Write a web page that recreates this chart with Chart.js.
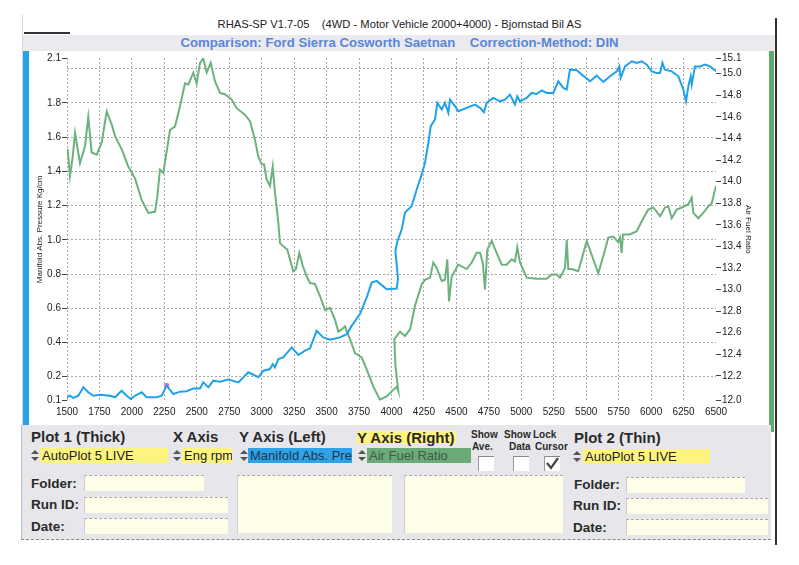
<!DOCTYPE html>
<html>
<head>
<meta charset="utf-8">
<title>RHAS-SP comparison</title>
<script src="https://cdn.jsdelivr.net/npm/chart.js@4.4.0/dist/chart.umd.min.js"></script>
<style>
  body { margin: 0; width: 799px; height: 565px; background: #fff; position: relative; overflow: hidden;
         font-family: "Liberation Sans", Arial, sans-serif; color: #222; }
  .abs { position: absolute; }
  #chartBox { position: absolute; left: 0; top: 0; width: 799px; height: 425px; }
  .head { left: 0; width: 799px; text-align: center; white-space: pre; line-height: 16px; }
  .lbl { position: absolute; font-weight: bold; font-size: 15px; line-height: 16px; white-space: pre; color: #2a2a2a; }
  .small { position: absolute; font-weight: bold; font-size: 10px; line-height: 12px; color: #2a2a2a; }
  .fld { position: absolute; height: 15px; line-height: 15px; font-size: 13px; padding-left: 2px;
         overflow: hidden; white-space: nowrap; box-sizing: border-box; }
  .cream { position: absolute; background: #fefde8; box-sizing: border-box;
           border-top: 1px dashed #a9a9a9; border-left: 1px solid #cfcfcf; }
  .spin { position: absolute; width: 8px; height: 11px; }
  .spin:before, .spin:after { content: ""; position: absolute; left: 0;
           border-left: 4px solid transparent; border-right: 4px solid transparent; }
  .spin:before { top: 0; border-bottom: 4px solid #555; }
  .spin:after { top: 7px; border-top: 4px solid #555; }
  .chk { position: absolute; width: 16px; height: 15px; background: #fff; box-sizing: border-box;
         border-top: 1px solid #888; border-left: 1px solid #999; }
</style>
</head>
<body>

<!-- header -->
<div class="abs" style="left:22px;top:15px;width:1px;height:410px;background:#d4d4d4"></div>
<div class="abs" style="left:24px;top:32px;width:46px;height:2px;background:#333"></div>
<div class="abs head" style="top:16px;font-size:11.2px">RHAS-SP V1.7-05    (4WD - Motor Vehicle 2000+4000) - Bjornstad Bil AS</div>
<div class="abs" style="left:23px;top:35px;width:752px;height:16px;background:#ebebef"></div>
<div class="abs head" style="top:35px;font-size:13.2px;font-weight:bold;color:#5a86d8">Comparison: Ford Sierra Cosworth Saetnan    Correction-Method: DIN</div>
<div class="abs" style="left:23px;top:51px;width:6px;height:374px;background:#27a2e8"></div>
<div class="abs" style="left:769px;top:51px;width:5px;height:381px;background:#5dac6d"></div>
<div class="abs" style="left:775px;top:18px;width:2px;height:527px;background:#333"></div>

<div id="chartBox"><canvas id="mapChart" width="799" height="425"></canvas></div>

<!-- control panel -->
<div class="abs" style="left:21px;top:425px;width:750px;height:115px;background:#e7e7eb;box-sizing:border-box;border-bottom:1px dashed #8a8a8a;border-left:1px solid #bdbdbd"></div>

<div class="lbl" style="left:31px;top:429px">Plot 1 (Thick)</div>
<div class="lbl" style="left:173px;top:429px">X Axis</div>
<div class="lbl" style="left:239px;top:429px">Y Axis (Left)</div>
<div class="lbl" style="left:357px;top:431px;height:13px;line-height:13px;background:#fff47c;padding-right:1px">Y Axis (Right)</div>
<div class="small" style="left:471px;top:429px">Show</div>
<div class="small" style="left:472px;top:441px">Ave.</div>
<div class="small" style="left:504px;top:429px">Show</div>
<div class="small" style="left:509px;top:441px">Data</div>
<div class="small" style="left:533px;top:429px">Lock</div>
<div class="small" style="left:535px;top:441px">Cursor</div>
<div class="lbl" style="left:574px;top:430px">Plot 2 (Thin)</div>

<div class="spin" style="left:31px;top:450px"></div>
<div class="fld" style="left:40px;top:448px;width:128px;background:#fdf480">AutoPlot 5 LIVE</div>
<div class="spin" style="left:173px;top:450px"></div>
<div class="fld" style="left:182px;top:448px;width:50px;background:#fdf480">Eng rpm</div>
<div class="spin" style="left:240px;top:450px"></div>
<div class="fld" style="left:248px;top:448px;width:104px;background:#2ea3e9;color:#1d3550">Manifold Abs. Pressure</div>
<div class="spin" style="left:358px;top:450px"></div>
<div class="fld" style="left:367px;top:448px;width:104px;background:#6cab79;color:#3f5a46">Air Fuel Ratio</div>

<div class="chk" style="left:478px;top:456px"></div>
<div class="chk" style="left:513px;top:456px"></div>
<div class="chk" style="left:544px;top:456px">
  <svg width="16" height="15" style="position:absolute;left:-1px;top:-1px"><polyline points="3,7 7,12 14,2" fill="none" stroke="#444" stroke-width="2.2"/></svg>
</div>

<div class="spin" style="left:573px;top:451px"></div>
<div class="fld" style="left:583px;top:449px;width:127px;background:#fdf480">AutoPlot 5 LIVE</div>

<div class="lbl" style="left:31px;top:476px;font-size:13.5px">Folder:</div>
<div class="lbl" style="left:31px;top:497px;font-size:13.5px">Run ID:</div>
<div class="lbl" style="left:31px;top:519px;font-size:13.5px">Date:</div>
<div class="cream" style="left:84px;top:475px;width:120px;height:16px"></div>
<div class="cream" style="left:84px;top:497px;width:144px;height:16px"></div>
<div class="cream" style="left:84px;top:518px;width:144px;height:16px"></div>
<div class="cream" style="left:237px;top:475px;width:155px;height:58px"></div>
<div class="cream" style="left:404px;top:475px;width:159px;height:58px"></div>
<div class="lbl" style="left:574px;top:477px;font-size:13.5px">Folder:</div>
<div class="lbl" style="left:573px;top:498px;font-size:13.5px">Run ID:</div>
<div class="lbl" style="left:573px;top:520px;font-size:13.5px">Date:</div>
<div class="cream" style="left:626px;top:477px;width:119px;height:16px"></div>
<div class="cream" style="left:626px;top:498px;width:142px;height:16px"></div>
<div class="cream" style="left:626px;top:519px;width:142px;height:16px"></div>

<script>
// Plot 1 - manifold absolute pressure (left axis, Kg/cm)
const rpmMap = [1500, 1523, 1549, 1587, 1626, 1664, 1703, 1754, 1831, 1870,
  1921, 1960, 1991, 2024, 2075, 2114, 2191, 2230, 2268, 2319,
  2371, 2422, 2473, 2525, 2550, 2589, 2627, 2679, 2743, 2820,
  2897, 2974, 3013, 3064, 3085, 3102, 3128, 3166, 3231, 3282,
  3334, 3372, 3423, 3474, 3526, 3603, 3655, 3693, 3757, 3809,
  3847, 3886, 3963, 4040, 4050, 4030, 4045, 4079, 4104, 4156,
  4194, 4233, 4258, 4284, 4302, 4335, 4353, 4387, 4412, 4438,
  4451, 4490, 4515, 4579, 4643, 4682, 4712, 4733, 4784, 4836,
  4874, 4913, 4951, 4969, 4990, 5041, 5080, 5118, 5157, 5195,
  5247, 5285, 5324, 5350, 5375, 5427, 5466, 5530, 5581, 5632,
  5683, 5735, 5755, 5766, 5799, 5851, 5889, 5928, 5967, 6005,
  6043, 6069, 6087, 6107, 6159, 6210, 6248, 6269, 6287, 6305,
  6313, 6338, 6377, 6415, 6454, 6500]
const mapValues = [0.080, 0.089, 0.076, 0.089, 0.138, 0.109, 0.089, 0.095, 0.089, 0.080,
  0.118, 0.089, 0.070, 0.089, 0.109, 0.080, 0.080, 0.089, 0.148, 0.099,
  0.113, 0.115, 0.132, 0.132, 0.167, 0.138, 0.177, 0.171, 0.183, 0.167,
  0.226, 0.197, 0.235, 0.245, 0.274, 0.255, 0.303, 0.313, 0.371, 0.327,
  0.352, 0.366, 0.468, 0.430, 0.416, 0.430, 0.449, 0.497, 0.566, 0.663,
  0.750, 0.760, 0.711, 0.715, 0.770, 0.935, 0.990, 1.061, 1.159, 1.197,
  1.294, 1.382, 1.450, 1.567, 1.664, 1.703, 1.800, 1.761, 1.800, 1.742,
  1.819, 1.780, 1.751, 1.771, 1.790, 1.771, 1.745, 1.800, 1.829, 1.809,
  1.819, 1.848, 1.790, 1.838, 1.809, 1.829, 1.858, 1.852, 1.873, 1.858,
  1.858, 1.926, 1.887, 1.878, 1.994, 1.990, 1.965, 1.926, 1.959, 1.922,
  1.955, 1.984, 2.013, 1.946, 2.013, 2.043, 2.033, 2.043, 2.023, 1.984,
  1.975, 1.975, 2.033, 1.994, 1.984, 1.955, 1.878, 1.809, 1.897, 1.955,
  1.907, 2.013, 2.013, 2.023, 2.013, 1.984]

// Plot 2 - air fuel ratio (right axis)
const rpmAfr = [1505, 1523, 1544, 1562, 1600, 1639, 1664, 1690, 1729, 1767,
  1806, 1844, 1870, 1921, 1972, 2024, 2075, 2126, 2178, 2196,
  2216, 2242, 2294, 2332, 2371, 2409, 2435, 2473, 2499, 2525,
  2550, 2576, 2607, 2640, 2679, 2717, 2769, 2807, 2871, 2910,
  2948, 2974, 3000, 3018, 3038, 3064, 3085, 3102, 3128, 3141,
  3166, 3197, 3243, 3264, 3290, 3316, 3347, 3372, 3411, 3449,
  3488, 3526, 3565, 3590, 3616, 3642, 3659, 3680, 3719, 3770,
  3809, 3860, 3911, 3963, 4014, 4040, 4052, 4030, 4022, 4065,
  4104, 4143, 4181, 4233, 4258, 4297, 4322, 4348, 4387, 4412,
  4430, 4443, 4464, 4515, 4579, 4618, 4656, 4682, 4703, 4720,
  4738, 4772, 4810, 4849, 4887, 4926, 4951, 4969, 4990, 5041,
  5118, 5195, 5234, 5272, 5298, 5337, 5350, 5362, 5388, 5439,
  5504, 5593, 5632, 5670, 5709, 5745, 5760, 5773, 5783, 5837,
  5889, 5940, 5978, 6017, 6069, 6107, 6133, 6159, 6197, 6236,
  6287, 6313, 6325, 6364, 6402, 6441, 6467, 6500]
const afrValues = [14.30, 14.05, 14.23, 14.45, 14.17, 14.33, 14.60, 14.27, 14.25, 14.36,
  14.65, 14.53, 14.42, 14.30, 14.14, 14.03, 13.83, 13.71, 13.72, 13.86,
  14.11, 14.08, 14.48, 14.51, 14.70, 14.91, 14.90, 15.01, 14.91, 15.10,
  15.14, 15.01, 15.10, 14.93, 14.82, 14.81, 14.76, 14.68, 14.62, 14.56,
  14.39, 14.23, 14.16, 14.16, 14.02, 13.96, 14.14, 13.90, 13.62, 13.43,
  13.40, 13.37, 13.17, 13.19, 13.34, 13.22, 13.12, 13.06, 13.05, 12.94,
  12.81, 12.83, 12.72, 12.61, 12.63, 12.66, 12.60, 12.54, 12.41, 12.37,
  12.26, 12.10, 11.98, 12.01, 12.07, 12.10, 12.06, 12.30, 12.54, 12.61,
  12.57, 12.63, 12.85, 13.05, 13.09, 13.11, 13.25, 13.20, 13.08, 13.09,
  13.28, 12.89, 13.12, 13.23, 13.19, 13.25, 13.34, 13.34, 13.25, 13.00,
  13.37, 13.45, 13.34, 13.23, 13.23, 13.28, 13.26, 13.39, 13.25, 13.11,
  13.10, 13.10, 13.14, 13.14, 13.11, 13.20, 13.46, 13.19, 13.19, 13.17,
  13.45, 13.15, 13.31, 13.48, 13.49, 13.44, 13.48, 13.34, 13.51, 13.51,
  13.54, 13.66, 13.74, 13.76, 13.68, 13.76, 13.77, 13.66, 13.74, 13.76,
  13.79, 13.85, 13.71, 13.66, 13.71, 13.77, 13.80, 13.96]

// locked cursor marker
const cursorRpm = [2268]
const cursorMap = [0.15]

// axes
const xTicks = [1500, 1750, 2000, 2250, 2500, 2750, 3000, 3250, 3500, 3750, 4000,
  4250, 4500, 4750, 5000, 5250, 5500, 5750, 6000, 6250, 6500]
const leftMin = 0.06
const leftMax = 2.062
const leftTicks = [0.2, 0.4, 0.6, 0.8, 1.0, 1.2, 1.4, 1.6, 1.8, 2.0]
const rightMin = 11.97
const rightMax = 15.145
const rightTicks = [12.2, 12.4, 12.6, 12.8, 13.0, 13.2, 13.4, 13.6, 13.8, 14.0,
  14.2, 14.4, 14.6, 14.8, 15.0]

const zip = (xs, ys) => xs.map((x, i) => ({ x: x, y: ys[i] }))
const gridGrey = "#a9a9a9"

Chart.defaults.font.family = '"Liberation Sans", Arial, sans-serif'
Chart.defaults.color = "#222"

new Chart(document.getElementById("mapChart"), {
  type: "line",
  data: {
    datasets: [
      {
        label: "Manifold Abs. Pressure",
        data: zip(rpmMap, mapValues),
        yAxisID: "y",
        borderColor: "#1fa2ea",
        borderWidth: 2,
        pointRadius: 0,
        tension: 0,
      },
      {
        label: "Air Fuel Ratio",
        data: zip(rpmAfr, afrValues),
        yAxisID: "y1",
        borderColor: "#6db27e",
        borderWidth: 2,
        pointRadius: 0,
        tension: 0,
      },
      {
        label: "Cursor",
        data: zip(cursorRpm, cursorMap),
        yAxisID: "y",
        showLine: false,
        pointRadius: 2.5,
        pointBorderWidth: 0,
        pointBackgroundColor: "#f06cc2",
      },
    ],
  },
  options: {
    responsive: false,
    animation: false,
    devicePixelRatio: 1,
    layout: { padding: { left: 35, right: 46, top: 58, bottom: 0 } },
    plugins: { legend: { display: false }, tooltip: { enabled: false } },
    scales: {
      x: {
        type: "linear",
        min: 1500,
        max: 6500,
        afterBuildTicks: (s) => { s.ticks = xTicks.map((v) => ({ value: v })) },
        afterFit: (s) => { s.height = 24.3 },
        ticks: {
          autoSkip: false,
          maxRotation: 0,
          padding: 6,
          font: { size: 10 },
          color: "#222",
          callback: (v) => String(v),
        },
        grid: {
          drawTicks: false,
          color: (c) => (c.tick && c.tick.value === 6500 ? "rgba(0,0,0,0)" : gridGrey),
        },
        border: { display: false, dash: [2, 2] },
      },
      y: {
        position: "left",
        min: leftMin,
        max: leftMax,
        afterBuildTicks: (s) => { s.ticks = [leftMin, ...leftTicks, leftMax].map((v) => ({ value: v })) },
        afterFit: (s) => { s.width = 32 },
        ticks: {
          padding: 1,
          font: { size: 10 },
          color: "#222",
          callback: (v) => (v === 2.0 ? "" : v.toFixed(1)),
        },
        grid: {
          tickLength: 5,
          color: (c) => (c.tick && (c.tick.value === leftMin || c.tick.value === leftMax) ? "rgba(0,0,0,0)" : gridGrey),
          tickColor: (c) => (c.tick && c.tick.value === 2.0 ? "rgba(0,0,0,0)" : "#444"),
        },
        border: { display: false, dash: [2, 2] },
        title: { display: true, text: "Manifold Abs. Pressure Kg/cm", font: { size: 8 }, color: "#222", padding: 0 },
      },
      y1: {
        position: "right",
        min: rightMin,
        max: rightMax,
        afterBuildTicks: (s) => { s.ticks = [rightMin, ...rightTicks, rightMax].map((v) => ({ value: v })) },
        afterFit: (s) => { s.width = 37 },
        ticks: { padding: 1, font: { size: 10 }, color: "#222", callback: (v) => v.toFixed(1) },
        grid: { drawOnChartArea: false, tickLength: 5, tickColor: "#444" },
        border: { display: false },
        title: { display: true, text: "Air Fuel Ratio", font: { size: 8 }, color: "#222", padding: 0 },
      },
    },
  },
})
</script>
</body>
</html>
